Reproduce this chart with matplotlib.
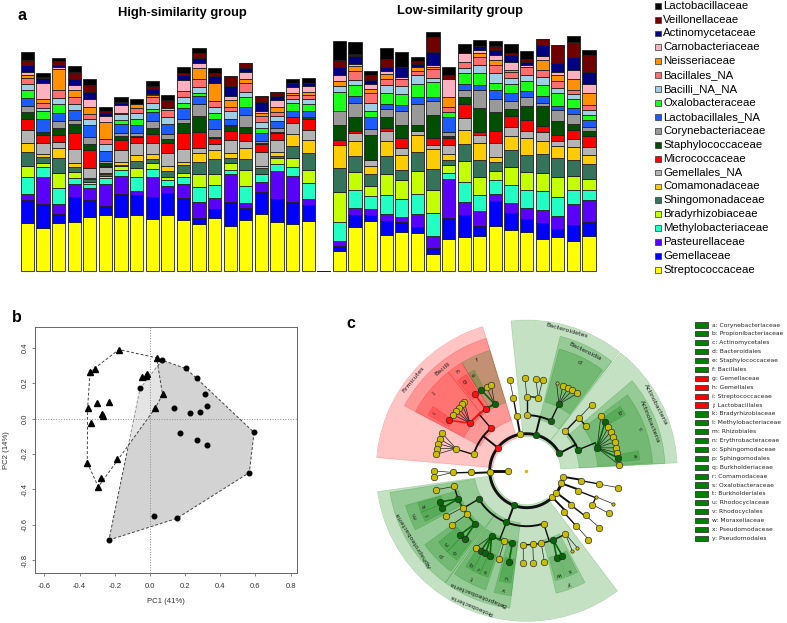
import numpy as np
import matplotlib
matplotlib.use("Agg")
import matplotlib.pyplot as plt
from matplotlib.patches import Rectangle, Polygon

plt.rcParams['font.family'] = ['Liberation Sans', 'DejaVu Sans']

# ---------------- panel a : family composition (per mille), bottom -> top
families = ["Streptococcaceae", "Gemellaceae", "Pasteurellaceae", "Methylobacteriaceae",
            "Bradyrhizobiaceae", "Shingomonadaceae", "Comamonadaceae", "Gemellales_NA",
            "Micrococcaceae", "Staphylococcaceae", "Corynebacteriaceae", "Lactobacillales_NA",
            "Oxalobacteraceae", "Bacilli_NA_NA", "Bacillales_NA", "Neisseriaceae",
            "Carnobacteriaceae", "Actinomycetaceae", "Veillonellaceae", "Lactobacillaceae"]
family_colors = ["#ffff00", "#0000ff", "#5a00ff", "#22ffc4", "#c4ff00", "#35735a", "#ffcc00",
                 "#b4b4b4", "#ff0000", "#004f00", "#999999", "#1a5cff", "#1aff1a", "#9fcfe4",
                 "#ff6e6e", "#ff9000", "#ffb0c0", "#000080", "#700000", "#000000"]

high_group = [
    [142, 70, 18, 50, 35, 41, 28, 38, 32, 23, 17, 23, 25, 17, 18, 10, 8, 23, 15, 23],
    [128, 72, 82, 30, 10, 20, 8, 34, 23, 5, 5, 37, 25, 10, 15, 12, 46, 15, 5, 10],
    [144, 25, 30, 48, 45, 47, 30, 18, 20, 22, 21, 24, 25, 20, 23, 63, 7, 5, 12, 8],
    [147, 73, 40, 17, 19, 16, 10, 42, 48, 28, 12, 30, 0, 18, 22, 20, 15, 17, 22, 18],
    [160, 52, 37, 10, 8, 8, 4, 28, 55, 18, 22, 34, 0, 18, 16, 22, 22, 23, 20, 17],
    [166, 28, 65, 18, 8, 5, 4, 18, 3, 7, 8, 29, 0, 21, 14, 51, 19, 8, 7, 11],
    [160, 70, 55, 18, 10, 5, 8, 37, 30, 12, 8, 28, 12, 18, 3, 0, 22, 7, 2, 15],
    [167, 60, 13, 40, 29, 20, 18, 35, 20, 3, 8, 25, 17, 18, 15, 12, 0, 0, 0, 16],
    [155, 65, 62, 24, 16, 14, 13, 35, 27, 18, 20, 28, 7, 19, 18, 5, 5, 13, 9, 17],
    [167, 65, 22, 18, 8, 20, 14, 40, 30, 10, 15, 31, 0, 22, 20, 0, 5, 0, 25, 15],
    [151, 66, 42, 21, 14, 23, 10, 37, 50, 28, 13, 33, 16, 18, 18, 0, 32, 14, 8, 17],
    [140, 17, 50, 43, 39, 38, 25, 15, 50, 47, 35, 26, 7, 18, 25, 32, 17, 15, 13, 15],
    [157, 27, 33, 40, 33, 44, 28, 18, 17, 3, 24, 30, 18, 20, 18, 54, 0, 20, 8, 15],
    [135, 72, 82, 13, 20, 15, 17, 38, 27, 16, 3, 17, 0, 23, 12, 22, 13, 28, 30, 2],
    [152, 37, 15, 50, 48, 32, 33, 23, 22, 20, 35, 25, 28, 17, 25, 12, 21, 13, 16, 0],
    [170, 67, 30, 22, 0, 18, 7, 41, 24, 3, 6, 25, 14, 20, 16, 10, 7, 25, 20, 0],
    [145, 69, 85, 21, 17, 7, 11, 37, 20, 3, 12, 23, 0, 13, 14, 13, 22, 11, 14, 0],
    [139, 68, 78, 27, 25, 38, 35, 34, 18, 0, 0, 18, 24, 10, 12, 8, 17, 13, 0, 10],
    [149, 48, 18, 47, 40, 50, 40, 30, 32, 6, 0, 20, 19, 15, 13, 10, 17, 8, 0, 17],
]
low_group = [
    [58, 15, 15, 58, 89, 73, 68, 0, 15, 47, 42, 0, 55, 18, 0, 15, 20, 22, 23, 57],
    [131, 37, 20, 55, 52, 48, 45, 25, 7, 40, 43, 20, 33, 17, 25, 17, 5, 23, 7, 36],
    [150, 16, 20, 37, 30, 38, 24, 18, 0, 75, 18, 34, 20, 23, 30, 13, 14, 13, 13, 12],
    [108, 42, 20, 56, 65, 52, 47, 30, 8, 32, 25, 16, 32, 25, 17, 15, 8, 13, 24, 33],
    [115, 31, 14, 56, 57, 30, 45, 20, 30, 40, 42, 18, 32, 23, 22, 0, 5, 30, 0, 45],
    [113, 18, 39, 61, 67, 58, 50, 12, 0, 18, 64, 20, 40, 28, 12, 10, 0, 10, 8, 13],
    [50, 18, 35, 70, 70, 63, 59, 11, 22, 68, 44, 10, 46, 12, 27, 5, 8, 38, 44, 16],
    [95, 62, 117, 20, 23, 15, 17, 28, 22, 5, 13, 45, 13, 0, 15, 30, 55, 0, 12, 25],
    [100, 68, 38, 59, 63, 53, 42, 35, 43, 19, 21, 20, 32, 15, 17, 0, 28, 0, 0, 27],
    [105, 28, 45, 48, 55, 52, 50, 23, 10, 72, 53, 17, 35, 23, 25, 12, 10, 10, 0, 18],
    [135, 73, 22, 41, 27, 27, 15, 43, 37, 56, 40, 27, 20, 30, 25, 15, 15, 15, 12, 13],
    [123, 50, 30, 55, 52, 53, 42, 25, 33, 22, 25, 23, 28, 17, 18, 7, 22, 21, 7, 27],
    [116, 39, 33, 55, 52, 51, 52, 22, 33, 42, 26, 19, 30, 16, 25, 0, 7, 7, 10, 23],
    [95, 48, 38, 57, 55, 58, 37, 27, 18, 60, 10, 22, 33, 23, 20, 32, 12, 33, 17, 0],
    [101, 24, 38, 58, 60, 57, 35, 15, 18, 42, 33, 14, 38, 15, 20, 20, 7, 28, 53, 0],
    [90, 48, 62, 43, 40, 48, 40, 25, 27, 18, 29, 18, 28, 14, 13, 33, 25, 40, 45, 19],
    [103, 43, 67, 30, 33, 44, 28, 23, 34, 15, 10, 21, 15, 17, 15, 35, 27, 36, 52, 13],
]

# ---------------- panel b : PCoA scores
high_pc1 = [-0.176, 0.038, 0.072, 0.029, -0.185, -0.293, -0.356, -0.354, -0.340, -0.312,
            -0.047, -0.025, -0.015, -0.301, -0.234, -0.270, -0.268, -0.337, -0.278]
high_pc2 = [0.390, 0.343, 0.136, 0.057, -0.231, -0.386, -0.250, 0.061, 0.264, 0.278,
            0.232, 0.240, 0.251, 0.085, 0.091, 0.023, 0.017, -0.023, -0.335]
low_pc1 = [0.069, 0.203, 0.266, -0.056, 0.313, 0.326, 0.135, 0.228, 0.285, 0.592,
           0.171, 0.266, 0.326, 0.565, 0.023, 0.152, -0.233]
low_pc2 = [0.330, 0.283, 0.227, 0.170, 0.138, 0.070, 0.057, 0.029, 0.034, -0.079,
           -0.080, -0.122, -0.150, -0.306, -0.551, -0.565, -0.687]

# ---------------- panel c : LEfSe cladogram
# id, parent, level, angle (deg), colour key
tree_nodes = [
    ("root", None, 0, 180.0, "y"), ("kingdom", "root", 1, 180.0, "y"),
    ("P_act", "kingdom", 2, 28.0, "g"), ("P_bac", "kingdom", 2, 76.0, "g"),
    ("P_y100", "kingdom", 2, 100.3, "y"), ("P_fir", "kingdom", 2, 141.5, "r"),
    ("P_y182", "kingdom", 2, 182.5, "y"), ("P_pro", "kingdom", 2, 249.7, "g"),
    ("P_y314", "kingdom", 2, 314.0, "y"), ("P_y323", "kingdom", 2, 323.4, "y"),
    ("P_y340", "kingdom", 2, 340.0, "y"), ("P_y350", "kingdom", 2, 350.5, "y"),
    ("C_acty", "P_act", 3, 45.7, "y"), ("C_act", "P_act", 3, 22.1, "g"),
    ("C_bacy", "P_bac", 3, 90.0, "y"), ("C_bac", "P_bac", 3, 64.2, "g"),
    ("C_y100", "P_y100", 3, 100.4, "y"), ("C_bacilli", "P_fir", 3, 130.1, "r"),
    ("C_firy", "P_fir", 3, 163.0, "y"), ("C_y182", "P_y182", 3, 181.7, "y"),
    ("C_alpha", "P_pro", 3, 210.6, "g"), ("C_beta", "P_pro", 3, 248.6, "g"),
    ("C_gamma", "P_pro", 3, 287.8, "y"), ("C_y314", "P_y314", 3, 311.8, "y"),
    ("C_y323", "P_y323", 3, 322.2, "y"), ("C_y340", "P_y340", 3, 338.6, "y"),
    ("C_y350", "P_y350", 3, 349.6, "y"),
    ("O_acty1", "C_acty", 4, 45.2, "y"), ("O_acty2", "C_acty", 4, 36.8, "y"),
    ("O_c", "C_act", 4, 18.0, "g"), ("O_bacy1", "C_bacy", 4, 90.0, "y"),
    ("O_bacy2", "C_bacy", 4, 81.0, "y"), ("O_d", "C_bac", 4, 64.2, "g"),
    ("O_y100", "C_y100", 4, 100.4, "y"), ("O_f", "C_bacilli", 4, 115.7, "g"),
    ("O_h", "C_bacilli", 4, 123.7, "r"), ("O_j", "C_bacilli", 4, 140.1, "r"),
    ("O_firy", "C_firy", 4, 162.6, "y"), ("O_y182", "C_y182", 4, 181.3, "y"),
    ("O_al1", "C_alpha", 4, 192.2, "y"), ("O_m", "C_alpha", 4, 202.3, "g"),
    ("O_al2", "C_alpha", 4, 209.9, "y"), ("O_al3", "C_alpha", 4, 216.1, "y"),
    ("O_p", "C_alpha", 4, 225.7, "g"), ("O_t", "C_beta", 4, 241.6, "g"),
    ("O_be1", "C_beta", 4, 252.4, "y"), ("O_v", "C_beta", 4, 258.8, "g"),
    ("O_ga1", "C_gamma", 4, 267.3, "y"), ("O_ga2", "C_gamma", 4, 274.7, "y"),
    ("O_ga3", "C_gamma", 4, 281.3, "y"), ("O_y", "C_gamma", 4, 291.0, "g"),
    ("O_ga4", "C_gamma", 4, 301.5, "y"), ("O_y314", "C_y314", 4, 312.1, "y"),
    ("O_y323", "C_y323", 4, 322.8, "y"), ("O_y340a", "C_y340", 4, 339.4, "y"),
    ("O_y340b", "C_y340", 4, 332.7, "y"), ("O_y350", "C_y350", 4, 349.5, "y"),
    ("F_acty1", "O_acty1", 5, 45.5, "y"),
    ("F_c1", "O_c", 5, 36.6, "y"), ("F_b", "O_c", 5, 31.9, "g"), ("F_c2", "O_c", 5, 28.0, "y"),
    ("F_c3", "O_c", 5, 24.9, "y"), ("F_c4", "O_c", 5, 21.4, "y"), ("F_c5", "O_c", 5, 18.1, "y"),
    ("F_c6", "O_c", 5, 14.3, "y"), ("F_c7", "O_c", 5, 11.1, "y"), ("F_a", "O_c", 5, 7.9, "g"),
    ("F_c8", "O_c", 5, 3.7, "y"),
    ("F_bacy1", "O_bacy1", 5, 91.0, "y"), ("F_bacy2", "O_bacy2", 5, 84.4, "y"),
    ("F_bacy3", "O_bacy2", 5, 80.0, "y"),
    ("F_d1", "O_d", 5, 71.1, "y"), ("F_d2", "O_d", 5, 66.9, "y"), ("F_d3", "O_d", 5, 63.4, "y"),
    ("F_d4", "O_d", 5, 60.4, "y"), ("F_d5", "O_d", 5, 56.7, "y"),
    ("F_y100", "O_y100", 5, 100.5, "y"),
    ("F_e", "O_f", 5, 119.4, "g"), ("F_f1", "O_f", 5, 115.7, "y"), ("F_f2", "O_f", 5, 112.5, "y"),
    ("F_g", "O_h", 5, 124.2, "r"),
    ("F_j1", "O_j", 5, 132.3, "y"), ("F_j2", "O_j", 5, 134.3, "y"), ("F_j3", "O_j", 5, 137.2, "y"),
    ("F_j4", "O_j", 5, 139.9, "y"), ("F_j5", "O_j", 5, 142.7, "y"), ("F_i", "O_j", 5, 146.9, "r"),
    ("F_fy1", "O_firy", 5, 156.1, "y"), ("F_fy2", "O_firy", 5, 160.0, "y"),
    ("F_fy3", "O_firy", 5, 163.0, "y"), ("F_fy4", "O_firy", 5, 166.2, "y"),
    ("F_fy5", "O_firy", 5, 169.9, "y"),
    ("F_y182a", "O_y182", 5, 180.2, "y"), ("F_y182b", "O_y182", 5, 183.8, "y"),
    ("F_al1", "O_al1", 5, 191.9, "y"), ("F_k", "O_m", 5, 199.8, "g"), ("F_l", "O_m", 5, 203.9, "g"),
    ("F_al2", "O_al2", 5, 209.5, "y"), ("F_al3", "O_al3", 5, 215.9, "y"),
    ("F_n", "O_p", 5, 223.9, "g"), ("F_o", "O_p", 5, 227.8, "g"),
    ("F_t1", "O_t", 5, 236.4, "y"), ("F_q", "O_t", 5, 240.2, "g"), ("F_r", "O_t", 5, 243.5, "g"),
    ("F_s", "O_t", 5, 246.7, "g"), ("F_be1", "O_be1", 5, 252.5, "y"), ("F_u", "O_v", 5, 259.0, "g"),
    ("F_ga1", "O_ga1", 5, 267.9, "y"), ("F_ga2", "O_ga2", 5, 274.2, "y"),
    ("F_ga3", "O_ga3", 5, 281.0, "y"), ("F_w", "O_y", 5, 289.0, "g"), ("F_x", "O_y", 5, 292.7, "g"),
    ("F_ga4", "O_ga4", 5, 299.6, "y"), ("F_ga5", "O_ga4", 5, 303.3, "y"),
    ("F_y314", "O_y314", 5, 311.9, "y"), ("F_y323", "O_y323", 5, 321.9, "y"),
    ("F_y340a", "O_y340a", 5, 339.0, "y"), ("F_y340b", "O_y340b", 5, 332.6, "y"),
    ("F_y350", "O_y350", 5, 349.5, "y"),
]
small_nodes = ["O_y340a", "F_y340a", "F_ga4", "F_ga5", "F_d1"]

# highlighted clades: label, level, start angle, end angle, colour key
clade_label = ["Firmicutes", "Bacilli", "f", "e", "h", "g", "j", "i",
               "Bacteroidetes", "Bacteroidia", "d",
               "Actinobacteria", "Actinobacteria", "c", "b", "a",
               "Proteobacteria", "Alphaproteobacteria", "m", "k", "l", "p", "n", "o",
               "Betaproteobacteria", "t", "q", "r", "s", "v", "u", "y", "w", "x"]
clade_level = [2, 3, 4, 5, 4, 5, 4, 5,
               2, 3, 4,
               2, 3, 4, 5, 5,
               2, 3, 4, 5, 5, 4, 5, 5,
               3, 4, 5, 5, 5, 4, 5, 4, 5, 5]
clade_start = [107, 107, 107, 117.5, 121, 122, 128.5, 145.5,
               52, 52, 53,
               3, 3, 3.5, 29.5, 5.5,
               188, 189, 196, 196.5, 201.5, 216, 219, 225.5,
               234, 235, 237.5, 241.5, 245.5, 255, 256, 283.5, 284.5, 290.5]
clade_end = [175, 152, 121, 121, 128.5, 127.5, 152, 150.5,
             96, 76, 75,
             51.5, 40.5, 37, 34.5, 10,
             307, 234, 208, 201.5, 206.5, 233, 225.5, 232,
             263, 251, 241.5, 245.5, 250, 263, 262, 297.5, 290, 296.5]
clade_colour = ["r", "r", "g", "g", "r", "r", "r", "r"] + ["g"] * 26

legend_c = ["a: Corynebacteriaceae", "b: Propionibacteriaceae", "c: Actinomycetales",
            "d: Bacteroidales", "e: Staphylococcaceae", "f: Bacillales", "g: Gemellaceae",
            "h: Gemellales", "i: Streptococcaceae", "j: Lactobacillales", "k: Bradyrhizobiaceae",
            "l: Methylobacteriaceae", "m: Rhizobiales", "n: Erythrobacteraceae",
            "o: Sphingomodaceae", "p: Sphingomodales", "q: Burkholderiaceae", "r: Comamodaceae",
            "s: Oxalobacteraceae", "t: Burkholderiales", "u: Rhodocyclaceae", "v: Rhodocyclales",
            "w: Moraxellaceae", "x: Pseudomodaceae", "y: Pseudomodales"]
legend_c_colour = ["g"] * 6 + ["r"] * 4 + ["g"] * 15

W, H = 787, 623
fig = plt.figure(figsize=(W / 100, H / 100), dpi=100)


def fx(px):
    return px / W


def fy(py):
    return 1 - py / H


# ================= panel a =================
ax_a = fig.add_axes([fx(19.55), fy(272.33), fx(577.2), 268.33 / H])
samples = np.array(high_group + [[0] * 20] + low_group, dtype=float)
xpos = np.arange(len(samples))
bottom = np.zeros(len(samples))
for k in range(len(families)):
    ax_a.bar(xpos, samples[:, k], bottom=bottom, width=0.85, color=family_colors[k],
             edgecolor="#1e1e1e", linewidth=0.6)
    bottom += samples[:, k]
ax_a.set_xlim(-0.5, len(samples) - 0.5)
ax_a.set_ylim(-5, 800)
ax_a.axis("off")

fig.text(fx(182), fy(13), "High-similarity group", ha="center", va="center",
         fontsize=9.3, fontweight="bold")
fig.text(fx(460), fy(11), "Low-similarity group", ha="center", va="center",
         fontsize=9.3, fontweight="bold")
fig.text(fx(22), fy(15), "a", ha="center", va="center", fontsize=11.5, fontweight="bold")

for i, k in enumerate(range(len(families) - 1, -1, -1)):
    yc = 5.7 + 13.9 * i
    fig.patches.append(Rectangle((fx(655), fy(yc + 2.9)), fx(5.8), 5.8 / H,
                                 transform=fig.transFigure, facecolor=family_colors[k],
                                 edgecolor="#333333", linewidth=0.5))
    fig.text(fx(663), fy(yc), families[k], ha="left", va="center", fontsize=8.2)

# ================= panel b =================
def convex_hull(xs, ys):
    pts = sorted(zip(xs, ys))

    def cross(o, a, b):
        return (a[0] - o[0]) * (b[1] - o[1]) - (a[1] - o[1]) * (b[0] - o[0])

    lower, upper = [], []
    for p in pts:
        while len(lower) >= 2 and cross(lower[-2], lower[-1], p) <= 0:
            lower.pop()
        lower.append(p)
    for p in reversed(pts):
        while len(upper) >= 2 and cross(upper[-2], upper[-1], p) <= 0:
            upper.pop()
        upper.append(p)
    return lower[:-1] + upper[:-1]


ax_b = fig.add_axes([fx(35), fy(573.3), fx(262), 246.6 / H])
ax_b.add_patch(Polygon(convex_hull(low_pc1, low_pc2), closed=True, facecolor="#d3d3d3",
                       edgecolor="#444444", linestyle=(0, (3, 2)), linewidth=0.7, zorder=1))
ax_b.add_patch(Polygon(convex_hull(high_pc1, high_pc2), closed=True, facecolor=(1, 1, 1, 0.4),
                       edgecolor="#444444", linestyle=(0, (3, 2)), linewidth=0.7, zorder=1.5))
ax_b.axhline(0, color="#8a8a8a", linestyle=":", linewidth=0.7, zorder=2)
ax_b.axvline(0, color="#8a8a8a", linestyle=":", linewidth=0.7, zorder=2)
ax_b.plot(high_pc1, high_pc2, "^", color="black", markersize=4.0, zorder=3)
ax_b.plot(low_pc1, low_pc2, "o", color="black", markersize=3.3, zorder=3)
ax_b.set_xlim(-0.653, 0.836)
ax_b.set_ylim(-0.875, 0.519)
ax_b.set_xticks(np.arange(-0.6, 0.81, 0.2))
ax_b.set_xticklabels(["-0.6", "-0.4", "-0.2", "0.0", "0.2", "0.4", "0.6", "0.8"])
ax_b.set_yticks(np.arange(-0.8, 0.41, 0.2))
ax_b.set_yticklabels(["-0.8", "-0.6", "-0.4", "-0.2", "0.0", "0.2", "0.4"],
                     rotation=90, va="center")
ax_b.tick_params(labelsize=5.5, length=2.2, width=0.5, color="#555555",
                 labelcolor="#333333", pad=2.5)
ax_b.tick_params(axis="x", pad=4.5)
for s in ax_b.spines.values():
    s.set_color("#666666")
    s.set_linewidth(0.7)
ax_b.set_xlabel("PC1 (41%)", fontsize=5.6, color="#333333", labelpad=6)
ax_b.set_ylabel("PC2 (14%)", fontsize=5.6, color="#333333", labelpad=8)
fig.text(fx(17), fy(318), "b", ha="center", va="center", fontsize=11.5, fontweight="bold")

# ================= panel c =================
level_r = [0, 18.5, 37, 55.5, 74, 92.5]
outer_r = {2: 151, 3: 138.5, 4: 126, 5: 113.5}
label_r = {2: 145.3, 3: 132.5, 4: 120.5, 5: 108.3}
node_col = {"y": "#c8bd00", "g": "#0a640a", "r": "#ff1010"}
wedge_col = {"g": "#008000", "r": "#ff0000"}
edge_lw = {1: 2.1, 2: 1.4, 3: 1.0, 4: 0.6}

cx, cy, R = 526.7, 470.7, 151
ax_c = fig.add_axes([fx(cx - R), fy(cy + R), fx(2 * R), 2 * R / H], projection="polar")
ax_c.set_ylim(0, R)
ax_c.axis("off")

for lab, lev, a0, a1, col in zip(clade_label, clade_level, clade_start, clade_end, clade_colour):
    rin = level_r[lev] - 3
    ax_c.bar(np.deg2rad((a0 + a1) / 2), outer_r[lev] - rin, width=np.deg2rad(a1 - a0),
             bottom=rin, color=wedge_col[col], alpha=0.23, edgecolor=wedge_col[col],
             linewidth=0.5, zorder=1)
    mid = (a0 + a1) / 2
    ax_c.text(np.deg2rad(mid), label_r[lev], lab, rotation=mid - 90, rotation_mode="anchor",
              ha="center", va="center", fontsize=4.5, family="DejaVu Sans",
              color="#1a1a1a", zorder=6)

info = {n[0]: n for n in tree_nodes}
kids = {}
for n in tree_nodes:
    if n[1] is not None:
        kids.setdefault(n[1], []).append(n[0])

for pid, ch in kids.items():
    p = info[pid]
    if p[2] == 0:
        continue
    pr, pa = level_r[p[2]], p[3]
    fan = [c for c in ch if info[c][2] == 5 and c not in kids]
    arc = [c for c in ch if c not in fan]
    for c in fan:
        cc = info[c]
        sig = cc[4] != "y"
        ax_c.plot(np.deg2rad([pa, cc[3]]), [pr, level_r[5]],
                  color=node_col[cc[4]] if sig else "#222222",
                  lw=1.2 if sig else 0.5, zorder=2 + sig)
    if arc:
        cr = level_r[info[arc[0]][2]]
        ax_c.plot(np.deg2rad([pa, pa]), [pr, cr], color="#111111", lw=edge_lw[p[2]], zorder=2)
        angs = [info[c][3] for c in arc] + [pa]
        th = np.linspace(min(angs), max(angs), 200)
        ax_c.plot(np.deg2rad(th), np.full_like(th, cr), color="#111111",
                  lw=edge_lw[p[2]], zorder=2)
        for c in arc:
            cc = info[c]
            if cc[4] != "y" and cc[2] >= 4:
                th = np.linspace(pa, cc[3], 60)
                ax_c.plot(np.deg2rad(th), np.full_like(th, cr), color=node_col[cc[4]],
                          lw=1.2, zorder=3)

for n in tree_nodes:
    r = level_r[n[2]]
    if n[2] == 0:
        ax_c.scatter(np.deg2rad(n[3]), 0.5, s=2, color=node_col["y"], zorder=4)
        continue
    ms = 2.4 if n[0] in small_nodes else 4.7
    ax_c.plot(np.deg2rad(n[3]), r, "o", markersize=ms, markerfacecolor=node_col[n[4]],
              markeredgecolor="#222222", markeredgewidth=0.45, zorder=5)

fig.text(fx(351), fy(324), "c", ha="center", va="center", fontsize=11.5, fontweight="bold")

for i, (txt, col) in enumerate(zip(legend_c, legend_c_colour)):
    yc = 325 + 8.89 * i
    fig.patches.append(Rectangle((fx(695), fy(yc + 2.6)), fx(12.7), 5.2 / H,
                                 transform=fig.transFigure, facecolor=wedge_col[col],
                                 edgecolor="#222222", linewidth=0.5))
    fig.text(fx(712), fy(yc), txt, ha="left", va="center", fontsize=4.3,
             family="DejaVu Sans", color="#222222")

fig.savefig("out.png", dpi=100)
